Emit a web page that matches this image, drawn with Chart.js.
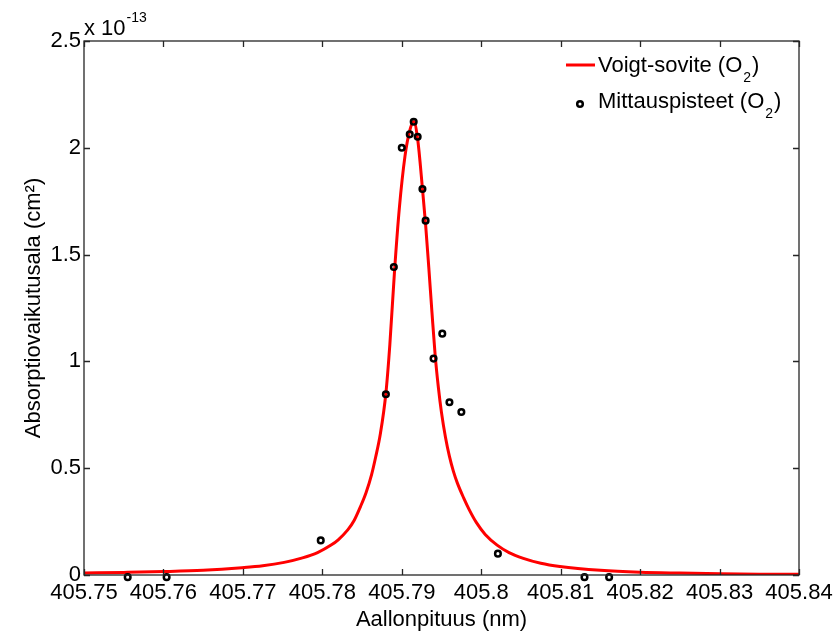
<!DOCTYPE html>
<html>
<head>
<meta charset="utf-8">
<script src="https://cdn.jsdelivr.net/npm/chart.js@4/dist/chart.umd.min.js"></script>
<style>
  html, body { margin: 0; padding: 0; background: #fff; }
  #wrap { width: 840px; height: 631px; }
</style>
</head>
<body>
<div id="wrap"><canvas id="chart" width="840" height="631"></canvas></div>
<script>
// tick values (y in units of 1e-13 cm^2)
const xTickValues = [405.75, 405.76, 405.77, 405.78, 405.79, 405.8, 405.81, 405.82, 405.83, 405.84];
const yTickValues = [0, 0.5, 1, 1.5, 2, 2.5];
const yExponent = '-13';

// Voigt fit
const fitWavelengths = [405.7500, 405.7550, 405.7601, 405.7650, 405.7699, 405.7725, 405.7752, 405.7775,
    405.7794, 405.7811, 405.7820, 405.7832, 405.7840, 405.7848, 405.7855, 405.7862,
    405.7867, 405.7873, 405.7880, 405.7885, 405.7891, 405.7897, 405.7904, 405.7910, 405.7915,
    405.7920, 405.7926, 405.7930, 405.7934, 405.7938, 405.7942, 405.7946, 405.7950, 405.7955,
    405.7960, 405.7965, 405.7970, 405.7978, 405.7985, 405.7994, 405.8005, 405.8020, 405.8035,
    405.8053, 405.8075, 405.8099, 405.8150, 405.8200, 405.8250, 405.8301, 405.8350, 405.8400];
const fitCrossSections = [0.009, 0.012, 0.016, 0.022, 0.034, 0.043, 0.059, 0.080,
    0.105, 0.140, 0.165, 0.211, 0.255, 0.320, 0.385, 0.470,
    0.550, 0.660, 0.851, 1.080, 1.430, 1.720, 1.960, 2.080, 2.123,
    2.040, 1.810, 1.640, 1.440, 1.230, 1.030, 0.880, 0.760, 0.645,
    0.555, 0.485, 0.430, 0.360, 0.305, 0.245, 0.190, 0.140, 0.105,
    0.078, 0.055, 0.040, 0.022, 0.013, 0.009, 0.006, 0.004, 0.003];

// measured points
const measuredWavelengths = [405.7555, 405.7604, 405.7798, 405.7880, 405.7890, 405.7900, 405.7910,
    405.7915, 405.7920, 405.7926, 405.7930, 405.7940, 405.7951, 405.7960, 405.7975, 405.8021,
    405.8130, 405.8161];
const measuredCrossSections = [-0.01, -0.01, 0.162, 0.846, 1.442, 2.000, 2.063,
    2.122, 2.052, 1.807, 1.659, 1.013, 1.130, 0.809, 0.763, 0.100,
    -0.01, -0.01];

const seriesLabels = ['Voigt-sovite (O\u2082)', 'Mittauspisteet (O\u2082)'];

const FONT = "'Liberation Sans', Arial, sans-serif";
const AXIS_COLOR = '#262626';

function toPoints(xs, ys) {
    return xs.map(function (x, i) { return { x: x, y: ys[i] }; });
}

// draws text where "\u2082" becomes a small lowered 2
function drawSubText(ctx, text, x, y) {
    const parts = text.split('\u2082');
    let cx = x;
    parts.forEach(function (part, i) {
        ctx.font = '22px ' + FONT;
        ctx.fillText(part, cx, y);
        cx += ctx.measureText(part).width;
        if (i < parts.length - 1) {
            ctx.font = '14px ' + FONT;
            ctx.fillText('2', cx + 1, y + 10);
            cx += ctx.measureText('2').width + 2;
        }
    });
}

const framePlugin = {
    id: 'frame',
    afterDatasetsDraw: function (chart) {
        const ctx = chart.ctx;
        const a = chart.chartArea;
        const xs = chart.scales.x;
        const ys = chart.scales.y;
        ctx.save();
        ctx.strokeStyle = AXIS_COLOR;
        ctx.lineWidth = 1.3;
        ctx.strokeRect(a.left, a.top, a.right - a.left, a.bottom - a.top);
        ctx.beginPath();
        xTickValues.forEach(function (v) {
            const px = Math.round(xs.getPixelForValue(v)) + 0.5;
            ctx.moveTo(px, a.bottom); ctx.lineTo(px, a.bottom - 6);
            ctx.moveTo(px, a.top); ctx.lineTo(px, a.top + 6);
        });
        yTickValues.forEach(function (v) {
            const py = Math.round(ys.getPixelForValue(v)) + 0.5;
            ctx.moveTo(a.left, py); ctx.lineTo(a.left + 6, py);
            ctx.moveTo(a.right, py); ctx.lineTo(a.right - 6, py);
        });
        ctx.stroke();

        // exponent label
        ctx.fillStyle = '#000';
        ctx.textBaseline = 'alphabetic';
        ctx.textAlign = 'left';
        ctx.font = '22px ' + FONT;
        ctx.fillText('x 10', a.left, 35);
        const w = ctx.measureText('x 10').width;
        ctx.font = '14px ' + FONT;
        ctx.fillText(yExponent, a.left + w + 1, 22);

        // legend
        const lx = 566, ly = 65;
        ctx.strokeStyle = '#ff0000';
        ctx.lineWidth = 3;
        ctx.beginPath();
        ctx.moveTo(lx, ly); ctx.lineTo(lx + 29, ly);
        ctx.stroke();
        ctx.fillStyle = '#000';
        drawSubText(ctx, chart.data.datasets[0].label, 598, 72);

        ctx.strokeStyle = '#000';
        ctx.lineWidth = 2.5;
        ctx.beginPath();
        ctx.arc(580, 104, 2.8, 0, Math.PI * 2);
        ctx.stroke();
        drawSubText(ctx, chart.data.datasets[1].label, 598, 108);
        ctx.restore();
    }
};

new Chart(document.getElementById('chart').getContext('2d'), {
    type: 'scatter',
    data: {
        datasets: [{
            label: seriesLabels[0],
            data: toPoints(fitWavelengths, fitCrossSections),
            showLine: true,
            borderColor: '#ff0000',
            borderWidth: 3,
            pointRadius: 0,
            cubicInterpolationMode: 'monotone',
            order: 1
        }, {
            label: seriesLabels[1],
            data: toPoints(measuredWavelengths, measuredCrossSections),
            showLine: false,
            pointRadius: 2.8,
            pointBorderWidth: 2.5,
            pointBorderColor: '#000',
            pointBackgroundColor: 'rgba(0,0,0,0)',
            clip: false,
            order: 0
        }]
    },
    options: {
        responsive: false,
        animation: false,
        layout: { padding: { left: 0, right: 41, top: 41, bottom: 0 } },
        plugins: {
            legend: { display: false },
            tooltip: { enabled: false }
        },
        scales: {
            x: {
                type: 'linear',
                min: 405.75,
                max: 405.84,
                afterBuildTicks: function (scale) {
                    scale.ticks = xTickValues.map(function (v) { return { value: v }; });
                },
                afterFit: function (scale) { scale.height = 56; },
                grid: { display: false, drawTicks: false },
                border: { display: false },
                ticks: {
                    autoSkip: false,
                    maxRotation: 0,
                    padding: 5,
                    color: '#000',
                    font: { family: FONT, size: 22 },
                    callback: function (v) { return String(Math.round(v * 100) / 100); }
                },
                title: {
                    display: true,
                    text: 'Aallonpituus (nm)',
                    color: '#000',
                    font: { family: FONT, size: 22, lineHeight: 1 },
                    padding: { top: 0, bottom: 0 }
                }
            },
            y: {
                type: 'linear',
                min: 0,
                max: 2.5,
                afterBuildTicks: function (scale) {
                    scale.ticks = yTickValues.map(function (v) { return { value: v }; });
                },
                afterFit: function (scale) { scale.width = 84; },
                grid: { display: false, drawTicks: false },
                border: { display: false },
                ticks: {
                    padding: 3,
                    color: '#000',
                    font: { family: FONT, size: 22 },
                    callback: function (v) { return String(v); }
                },
                title: {
                    display: true,
                    text: 'Absorptiovaikutusala (cm\u00b2)',
                    color: '#000',
                    font: { family: FONT, size: 22, lineHeight: 1.2 },
                    padding: { top: 21, bottom: 0 }
                }
            }
        }
    },
    plugins: [framePlugin]
});
</script>
</body>
</html>
